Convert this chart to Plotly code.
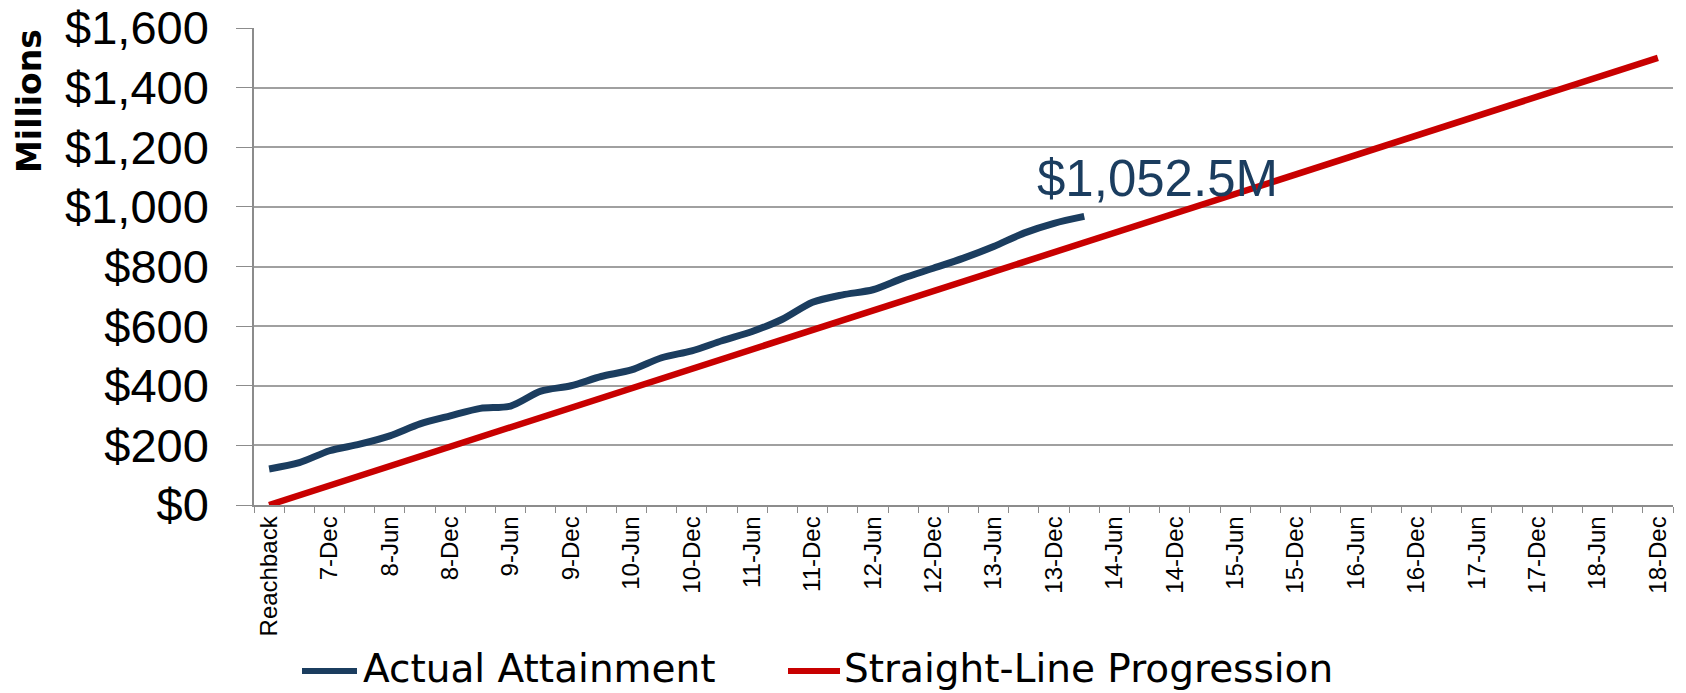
import plotly.graph_objects as go

# ---- data ----
categories = ["Reachback", "7-Sep", "7-Dec", "8-Mar", "8-Jun", "8-Sep", "8-Dec", "9-Mar", "9-Jun",
              "9-Sep", "9-Dec", "10-Mar", "10-Jun", "10-Sep", "10-Dec", "11-Mar", "11-Jun",
              "11-Sep", "11-Dec", "12-Mar", "12-Jun", "12-Sep", "12-Dec", "13-Mar", "13-Jun",
              "13-Sep", "13-Dec", "14-Mar", "14-Jun", "14-Sep", "14-Dec", "15-Mar", "15-Jun",
              "15-Sep", "15-Dec", "16-Mar", "16-Jun", "16-Sep", "16-Dec", "17-Mar", "17-Jun",
              "17-Sep", "17-Dec", "18-Mar", "18-Jun", "18-Sep", "18-Dec"]

tick_labels = ["Reachback", "7-Dec", "8-Jun", "8-Dec", "9-Jun", "9-Dec", "10-Jun", "10-Dec",
               "11-Jun", "11-Dec", "12-Jun", "12-Dec", "13-Jun", "13-Dec", "14-Jun", "14-Dec",
               "15-Jun", "15-Dec", "16-Jun", "16-Dec", "17-Jun", "17-Dec", "18-Jun", "18-Dec"]

actual_categories = categories[:28]
actual_values = [121, 142, 182, 204, 232, 272, 299, 324, 332, 382, 400, 431, 453, 494,
                 517, 551, 582, 623, 680, 705, 722, 761, 794, 828, 867, 912, 945, 968]

straight_categories = ["Reachback", "18-Dec"]
straight_values = [0, 1500]

series_names = ["Actual Attainment", "Straight-Line Progression"]
callout_text = "$1,052.5M"
y_title = "Millions"

BLUE = "#1B3D5F"
RED = "#C80000"
GRID = "#A0A0A0"

fig = go.Figure()
fig.add_trace(go.Scatter(x=actual_categories, y=actual_values, mode="lines",
                         name=series_names[0], showlegend=False,
                         line=dict(color=BLUE, width=7, shape="spline", smoothing=0.8)))
fig.add_trace(go.Scatter(x=straight_categories, y=straight_values, mode="lines",
                         name=series_names[1], showlegend=False,
                         line=dict(color=RED, width=6.5)))

fig.update_xaxes(type="category", categoryorder="array", categoryarray=categories,
                 tickvals=categories,
                 ticktext=[c if c in tick_labels else "" for c in categories],
                 tickson="boundaries", ticks="outside", ticklen=6, tickcolor="#8C8C8C",
                 tickangle=-90, tickfont=dict(family="Liberation Sans, Arial", size=24, color="black"),
                 range=[-0.5, len(categories) - 0.5], showgrid=False,
                 showline=True, linecolor="#8C8C8C", linewidth=1.5, automargin=False)
fig.update_yaxes(range=[0, 1600], dtick=200, tickprefix="$", tickformat=",d",
                 ticks="outside", ticklen=16, tickcolor="#8C8C8C",
                 ticklabelstandoff=18,
                 tickfont=dict(family="Liberation Sans, Arial", size=47, color="black"),
                 showgrid=True, gridcolor=GRID, gridwidth=1.5, zeroline=False,
                 showline=True, linecolor="#8C8C8C", linewidth=1.5, automargin=False)

L, R, T, B = 254, 13, 28, 188
W, H = 1686, 693
pw, ph = W - L - R, H - T - B

def px(x):
    return (x - L) / pw

def py(y):
    return (H - B - y) / ph

annotations = [
    dict(text=callout_text, x=px(1035), y=py(178), xref="paper", yref="paper",
         xanchor="left", yanchor="middle", showarrow=False,
         font=dict(family="Liberation Sans, Arial", size=51, color=BLUE)),
    dict(text="<b>" + y_title + "</b>", x=px(29), y=py(101), xref="paper", yref="paper",
         xanchor="center", yanchor="middle", textangle=-90, showarrow=False,
         font=dict(family="DejaVu Sans", size=33, color="black")),
    dict(text=series_names[0], x=px(362), y=py(692), xref="paper", yref="paper",
         xanchor="left", yanchor="bottom", showarrow=False, borderpad=0,
         font=dict(family="DejaVu Sans", size=39, color="black")),
    dict(text=series_names[1], x=px(843), y=py(692), xref="paper", yref="paper",
         xanchor="left", yanchor="bottom", showarrow=False, borderpad=0,
         font=dict(family="DejaVu Sans", size=39, color="black")),
]
shapes = [
    dict(type="line", xref="paper", yref="paper", x0=px(302), x1=px(357), y0=py(671), y1=py(671),
         line=dict(color=BLUE, width=6)),
    dict(type="line", xref="paper", yref="paper", x0=px(788), x1=px(840), y0=py(671), y1=py(671),
         line=dict(color=RED, width=6)),
]

fig.update_layout(width=W, height=H, margin=dict(l=L, r=R, t=T, b=B, autoexpand=False),
                  plot_bgcolor="white", paper_bgcolor="white", showlegend=False,
                  annotations=annotations, shapes=shapes)

fig.write_html("out.html", config={"displayModeBar": False},
               post_script="document.body.style.margin='0';")
